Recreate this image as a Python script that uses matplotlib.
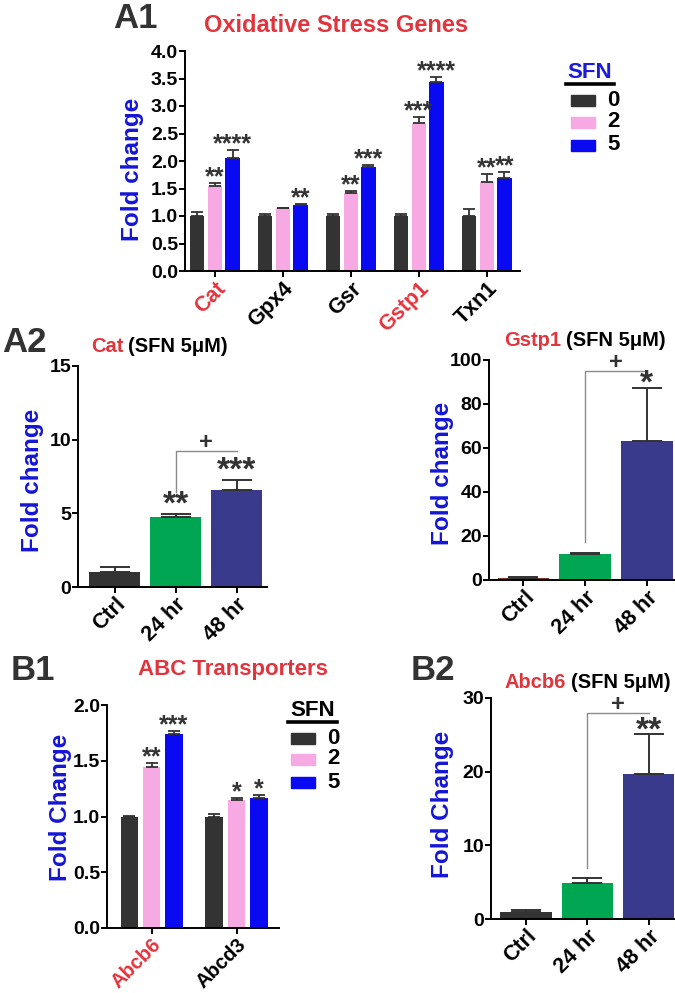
import matplotlib

matplotlib.use("Agg")

import matplotlib.pyplot as plt
import numpy as np
from matplotlib.lines import Line2D
from matplotlib.patches import Rectangle

W, H = 675, 993

# ---- data ----
sfn_doses = ["0", "2", "5"]

ox_genes = ["Cat", "Gpx4", "Gsr", "Gstp1", "Txn1"]
ox_mean_0 = [1.00, 1.00, 1.00, 1.00, 1.00]
ox_mean_2 = [1.54, 1.14, 1.41, 2.70, 1.62]
ox_mean_5 = [2.05, 1.20, 1.89, 3.44, 1.70]
ox_err_0 = [0.07, 0.03, 0.04, 0.03, 0.13]
ox_err_2 = [0.06, 0.01, 0.05, 0.10, 0.14]
ox_err_5 = [0.15, 0.02, 0.03, 0.09, 0.10]
ox_stars_0 = ["", "", "", "", ""]
ox_stars_2 = ["**", "", "**", "***", "**"]
ox_stars_5 = ["****", "**", "***", "****", "**"]

abc_genes = ["Abcb6", "Abcd3"]
abc_mean_0 = [1.00, 1.00]
abc_mean_2 = [1.44, 1.15]
abc_mean_5 = [1.74, 1.165]
abc_err_0 = [0.005, 0.02]
abc_err_2 = [0.04, 0.02]
abc_err_5 = [0.03, 0.03]
abc_stars_0 = ["", ""]
abc_stars_2 = ["**", "*"]
abc_stars_5 = ["***", "*"]

time_labels = ["Ctrl", "24 hr", "48 hr"]
cat_mean = [1.04, 4.72, 6.57]
cat_err = [0.30, 0.24, 0.70]
cat_stars = ["", "**", "***"]
cat_bracket = [6.46, 9.25]

gstp1_mean = [0.8, 11.7, 63.2]
gstp1_err = [0.7, 0.6, 23.9]
gstp1_stars = ["", "", "*"]
gstp1_bracket = [17.1, 95.0]

abcb6_mean = [0.95, 4.9, 19.7]
abcb6_err = [0.30, 0.65, 5.4]
abcb6_stars = ["", "", "**"]
abcb6_bracket = [6.9, 28.0]

# ---- styling ----
RED = "#e2343d"
BLUE_TXT = "#1515d6"
DARK = "#333333"
PINK = "#f7a9e3"
BLUE = "#0a0af2"
GREEN = "#00a651"
NAVY = "#393a8c"
BROWN = "#7d3a2c"
FONT = ["Liberation Sans", "DejaVu Sans"]

plt.rcParams["font.family"] = FONT
plt.rcParams["font.weight"] = "bold"
plt.rcParams["axes.linewidth"] = 1.4
plt.rcParams["xtick.major.width"] = 1.4
plt.rcParams["ytick.major.width"] = 1.4
plt.rcParams["xtick.major.size"] = 4
plt.rcParams["ytick.major.size"] = 4

fig = plt.figure(figsize=(W / 100, H / 100), dpi=100)


def px_axes(x0, x1, y_top, y_bot):
    return fig.add_axes((x0 / W, 1 - y_bot / H, (x1 - x0) / W, (y_bot - y_top) / H))


def ftext(x, y, s, **kw):
    fig.text(x / W, 1 - y / H, s, **kw)


def style(ax, ylim, yticks, yfmt, xsize=15.5):
    ax.spines["top"].set_visible(False)
    ax.spines["right"].set_visible(False)
    ax.set_ylim(*ylim)
    ax.set_yticks(yticks)
    ax.set_yticklabels([yfmt.format(v) for v in yticks])
    ax.tick_params(axis="y", labelsize=14, pad=1)
    ax.tick_params(axis="x", labelsize=xsize, pad=1)


def stars(ax, x, top, s, size, centre):
    # centre: distance (pt) from error-bar top to the middle of the asterisks
    if s:
        ax.annotate(s, (x, top), xytext=(0, centre - 0.36 * size),
                    textcoords="offset points", ha="center", va="baseline",
                    fontsize=size, color=DARK)


def grouped(ax, genes, means, errs, star_sets, width=0.21, step=0.26, size=18):
    x = np.arange(len(genes))
    colours = [DARK, PINK, BLUE]
    for k, (m, e, st) in enumerate(zip(means, errs, star_sets)):
        xs = x + (k - 1) * step
        ax.bar(xs, m, width, color=colours[k], zorder=2)
        ax.errorbar(xs, m, yerr=[np.zeros(len(m)), e], fmt="none", ecolor=DARK,
                    elinewidth=1.3, capsize=4, capthick=1.3, zorder=3)
        for xi, mi, ei, si in zip(xs, m, e, st):
            stars(ax, xi, mi + ei, si, size, 5.5)
    ax.set_xticks(x)
    labels = ax.set_xticklabels(genes, rotation=45, ha="right", va="top",
                                rotation_mode="anchor")
    return labels


def timecourse(ax, means, errs, st, bracket, colours, centre):
    x = np.arange(len(means))
    ax.bar(x, means, 0.84, color=colours, zorder=2)
    ax.errorbar(x, means, yerr=[np.zeros(len(means)), errs], fmt="none", ecolor=DARK,
                elinewidth=1.4, capsize=11, capthick=1.4, zorder=3)
    for xi, mi, ei, si in zip(x, means, errs, st):
        stars(ax, xi, mi + ei, si, 24, centre)
    ax.plot([1, 1, 2], [bracket[0], bracket[1], bracket[1]], color="#8a8a8a", lw=1.0,
            zorder=1)
    ax.annotate("+", (1.5, bracket[1]), xytext=(0, 6), textcoords="offset points",
                ha="center", va="center", fontsize=17, color=DARK)
    ax.set_xticks(x)
    ax.set_xticklabels(time_labels, rotation=45, ha="right", va="top",
                       rotation_mode="anchor")


def legend(x_sw, x_lab, y_title, y_line, ys, title_colour, xl0, xl1):
    ftext((xl0 + xl1) / 2, y_title, "SFN", ha="center", va="center", fontsize=16,
          color=title_colour)
    fig.add_artist(Line2D([xl0 / W, xl1 / W], [1 - y_line / H] * 2, color="black",
                          lw=2.6, transform=fig.transFigure))
    for yc, c, lab in zip(ys, [DARK, PINK, BLUE], sfn_doses):
        fig.add_artist(Rectangle((x_sw[0] / W, 1 - (yc + 5.5) / H),
                                 (x_sw[1] - x_sw[0]) / W, 11 / H, color=c,
                                 transform=fig.transFigure))
        ftext(x_lab, yc, lab, ha="left", va="center", fontsize=16, color="black")


# ---- A1: oxidative stress genes ----
ax = px_axes(185, 520, 51, 271)
style(ax, (0, 4), np.arange(0, 4.01, 0.5), "{:.1f}")
ax.set_xlim(-0.44, 4.49)
labs = grouped(ax, ox_genes, [ox_mean_0, ox_mean_2, ox_mean_5],
               [ox_err_0, ox_err_2, ox_err_5], [ox_stars_0, ox_stars_2, ox_stars_5])
for lab in labs:
    if lab.get_text() in ("Cat", "Gstp1"):
        lab.set_color(RED)
ftext(132, 169, "Fold change", rotation=90, ha="center", va="center", fontsize=17.5,
      color=BLUE_TXT)
ftext(135, 19, "A1", ha="center", va="center", fontsize=25, color=DARK)
ftext(336, 25, "Oxidative Stress Genes", ha="center", va="center", fontsize=17,
      color=RED)
legend((571, 595), 607, 72, 84, [100, 122, 145], "#1a1adc", 566, 614)

# ---- A2 left: Cat time course ----
ax = px_axes(78, 267, 366, 587)
style(ax, (0, 15), [0, 5, 10, 15], "{:d}")
ax.set_xlim(-0.6, 2.5)
timecourse(ax, cat_mean, cat_err, cat_stars, cat_bracket, [DARK, GREEN, NAVY], 8.6)
ftext(33, 480, "Fold change", rotation=90, ha="center", va="center", fontsize=17.5,
      color=BLUE_TXT)
ftext(24, 342, "A2", ha="center", va="center", fontsize=25, color=DARK)
ftext(123, 347, "Cat", ha="right", va="center", fontsize=14.5, color=RED)
ftext(128, 347, "(SFN 5\u03bcM)", ha="left", va="center", fontsize=14.5, color="black")

# ---- A2 right: Gstp1 time course ----
ax = px_axes(489, 675, 360, 580)
style(ax, (0, 100), [0, 20, 40, 60, 80, 100], "{:d}")
ax.set_xlim(-0.56, 2.46)
timecourse(ax, gstp1_mean, gstp1_err, gstp1_stars, gstp1_bracket,
           [BROWN, GREEN, NAVY], 5.8)
ftext(443, 473, "Fold change", rotation=90, ha="center", va="center", fontsize=17.5,
      color=BLUE_TXT)
ftext(561, 341, "Gstp1", ha="right", va="center", fontsize=14.5, color=RED)
ftext(566, 341, "(SFN 5\u03bcM)", ha="left", va="center", fontsize=14.5, color="black")

# ---- B1: ABC transporters ----
ax = px_axes(107, 279, 705, 928)
style(ax, (0, 2), np.arange(0, 2.01, 0.5), "{:.1f}", xsize=14.5)
ax.set_xlim(-0.524, 1.5)
labs = grouped(ax, abc_genes, [abc_mean_0, abc_mean_2, abc_mean_5],
               [abc_err_0, abc_err_2, abc_err_5], [abc_stars_0, abc_stars_2, abc_stars_5])
labs[0].set_color(RED)
ftext(60, 807, "Fold Change", rotation=90, ha="center", va="center", fontsize=17.5,
      color=BLUE_TXT)
ftext(33, 670, "B1", ha="center", va="center", fontsize=25, color=DARK)
ftext(233, 670, "ABC Transporters", ha="center", va="center", fontsize=16, color=RED)
legend((291, 315), 327, 710, 722, [738, 759, 782], "black", 288, 337)

# ---- B2: Abcb6 time course ----
ax = px_axes(491, 675, 698, 919)
style(ax, (0, 30), [0, 10, 20, 30], "{:d}")
ax.set_xlim(-0.57, 2.43)
timecourse(ax, abcb6_mean, abcb6_err, abcb6_stars, abcb6_bracket,
           [DARK, GREEN, NAVY], 5.0)
ftext(443, 804, "Fold Change", rotation=90, ha="center", va="center", fontsize=17.5,
      color=BLUE_TXT)
ftext(433, 670, "B2", ha="center", va="center", fontsize=25, color=DARK)
ftext(566, 682, "Abcb6", ha="right", va="center", fontsize=14.5, color=RED)
ftext(571, 682, "(SFN 5\u03bcM)", ha="left", va="center", fontsize=14.5, color="black")

fig.savefig("out.png", dpi=100)
